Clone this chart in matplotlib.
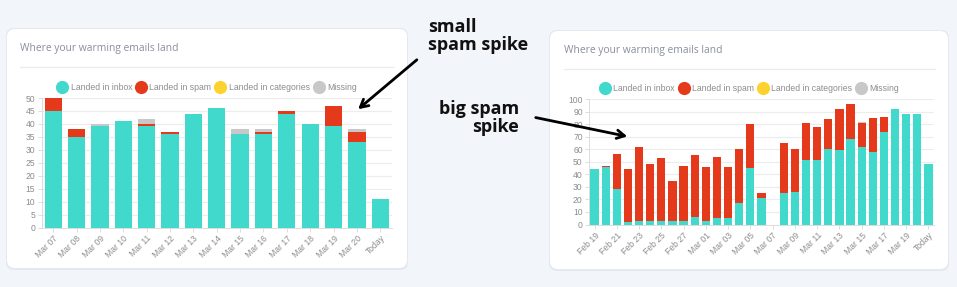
import matplotlib

matplotlib.use("Agg")

import matplotlib.pyplot as plt
import numpy as np
from matplotlib.lines import Line2D
from matplotlib.patches import FancyBboxPatch

W, H = 957, 287

INBOX = "#41d9cc"
SPAM = "#e5391c"
CATEG = "#fdd22f"
MISSING = "#c8c8c8"
GREY_TEXT = "#8c8c8c"

SERIES_NAMES = ["Landed in inbox", "Landed in spam", "Landed in categories", "Missing"]

# left chart: small spam spike
left_days = ["Mar 07", "Mar 08", "Mar 09", "Mar 10", "Mar 11", "Mar 12", "Mar 13",
             "Mar 14", "Mar 15", "Mar 16", "Mar 17", "Mar 18", "Mar 19", "Mar 20", "Today"]
left_inbox = [45, 35, 39, 41, 39, 36, 44, 46, 36, 36, 44, 40, 39, 33, 11]
left_spam = [5, 3, 0, 0, 1, 1, 0, 0, 0, 1, 1, 0, 8, 4, 0]
left_categ = [0] * 15
left_missing = [0, 0, 1, 0, 2, 0, 0, 0, 2, 1, 0, 0, 0, 1, 0]

# right chart: big spam spike
right_days = ["Feb 19", "Feb 20", "Feb 21", "Feb 22", "Feb 23", "Feb 24", "Feb 25",
              "Feb 26", "Feb 27", "Feb 28", "Mar 01", "Mar 02", "Mar 03", "Mar 04",
              "Mar 05", "Mar 06", "Mar 07", "Mar 08", "Mar 09", "Mar 10", "Mar 11",
              "Mar 12", "Mar 13", "Mar 14", "Mar 15", "Mar 16", "Mar 17", "Mar 18",
              "Mar 19", "Mar 20", "Today"]
right_inbox = [44, 46, 28, 2, 3, 3, 3, 3, 3, 6, 3, 5, 5, 17, 45, 21, 0,
               25, 26, 51, 51, 60, 59, 68, 62, 58, 74, 92, 88, 88, 48]
right_spam = [0, 1, 28, 42, 59, 45, 50, 32, 44, 49, 43, 49, 41, 43, 35, 4, 0,
              40, 34, 30, 27, 24, 33, 28, 19, 27, 12, 0, 0, 0, 0]
right_categ = [0] * 31
right_missing = [0] * 24 + [1] + [0] * 6


def px_rect(x0, y0, x1, y1):
    """Pixel box (top-left origin) -> figure fraction rect."""
    return [x0 / W, (H - y1) / H, (x1 - x0) / W, (y1 - y0) / H]


def draw_card(bg, x0, y0, x1, y1):
    shadow = FancyBboxPatch((x0 - 1, y0 - 1), x1 - x0 + 2, y1 - y0 + 3,
                            boxstyle="round,pad=0,rounding_size=8",
                            facecolor="#e4e8f0", edgecolor="none", zorder=1)
    card = FancyBboxPatch((x0, y0), x1 - x0, y1 - y0,
                          boxstyle="round,pad=0,rounding_size=8",
                          facecolor="white", edgecolor="none", zorder=2)
    bg.add_patch(shadow)
    bg.add_patch(card)


def draw_chart(fig, rect, days, inbox, spam, categ, missing, ymax, ystep, label_every,
               legend_x):
    ax = fig.add_axes(rect)
    ax.set_facecolor("none")
    x = np.arange(len(days))
    bottom = np.zeros(len(days))
    for vals, color in zip([inbox, spam, categ, missing], [INBOX, SPAM, CATEG, MISSING]):
        vals = np.asarray(vals, dtype=float)
        ax.bar(x, vals, bottom=bottom, width=0.74, color=color, linewidth=0, zorder=3)
        bottom += vals
    ax.set_xlim(-0.5, len(days) - 0.5)
    ax.set_ylim(0, ymax)
    ax.set_yticks(np.arange(0, ymax + 1, ystep))
    ax.grid(axis="y", color="#ececec", linewidth=0.8, zorder=0)
    ticks = x[::label_every]
    ax.set_xticks(ticks, [days[i] for i in ticks], rotation=45, ha="right",
                  rotation_mode="anchor")
    ax.tick_params(axis="both", colors="#d8d8d8", labelcolor=GREY_TEXT,
                   labelsize=6.2, length=3, width=0.6, pad=1.5)
    for lab in ax.get_xticklabels() + ax.get_yticklabels():
        lab.set_family("Liberation Sans")
    ax.spines[["top", "right"]].set_visible(False)
    ax.spines[["left", "bottom"]].set_color("#dcdcdc")
    ax.spines[["left", "bottom"]].set_linewidth(0.7)

    handles = [Line2D([], [], marker="o", linestyle="none", markersize=9.5,
                      markerfacecolor=c, markeredgecolor="none")
               for c in [INBOX, SPAM, CATEG, MISSING]]
    leg = ax.legend(handles, SERIES_NAMES, loc="lower center",
                    bbox_to_anchor=(legend_x, 1.005), ncol=4, frameon=False,
                    handletextpad=0.2, columnspacing=0.3, handlelength=1.5,
                    borderaxespad=0.2, prop={"family": "Liberation Sans", "size": 6.2})
    for t in leg.get_texts():
        t.set_color(GREY_TEXT)
    return ax


fig = plt.figure(figsize=(W / 100, H / 100), dpi=100)
fig.patch.set_facecolor("#f2f5fa")

bg = fig.add_axes([0, 0, 1, 1])
bg.set_xlim(0, W)
bg.set_ylim(H, 0)
bg.axis("off")

draw_card(bg, 7, 29, 407, 268)
draw_card(bg, 550, 31, 948, 269)

for tx, ty, sx0, sx1, sy in [(20, 48, 20, 393, 67), (564, 51, 564, 935, 69)]:
    bg.text(tx, ty, "Where your warming emails land", fontsize=7.4, color="#8a8ea0",
            family="Open Sans", va="center", ha="left", zorder=3)
    bg.plot([sx0, sx1], [sy, sy], color="#e9ebf0", linewidth=0.9, zorder=3)

draw_chart(fig, px_rect(41.5, 98, 392, 227.5), left_days, left_inbox, left_spam,
           left_categ, left_missing, 50, 5, 1, 0.47)
draw_chart(fig, px_rect(589, 99, 934, 224.5), right_days, right_inbox, right_spam,
           right_categ, right_missing, 100, 10, 2, 0.464)

ann = fig.add_axes([0, 0, 1, 1])
ann.set_facecolor("none")
ann.set_xlim(0, W)
ann.set_ylim(H, 0)
ann.axis("off")

ann.text(428, 36, "small\nspam spike", fontsize=13, fontweight="bold", family="Open Sans",
         color="#111111", ha="left", va="center", linespacing=0.95)
ann.text(519, 118, "big spam\nspike", fontsize=13, fontweight="bold", family="Open Sans",
         color="#111111", ha="right", va="center", linespacing=0.95)
arrow_style = {"arrowstyle": "->,head_length=0.55,head_width=0.3",
               "color": "black", "linewidth": 2.0}
ann.annotate("", xy=(356, 111), xytext=(419, 58), arrowprops=arrow_style)
ann.annotate("", xy=(630, 137), xytext=(533, 117), arrowprops=arrow_style)

fig.savefig("out.png", dpi=100, facecolor=fig.get_facecolor())
